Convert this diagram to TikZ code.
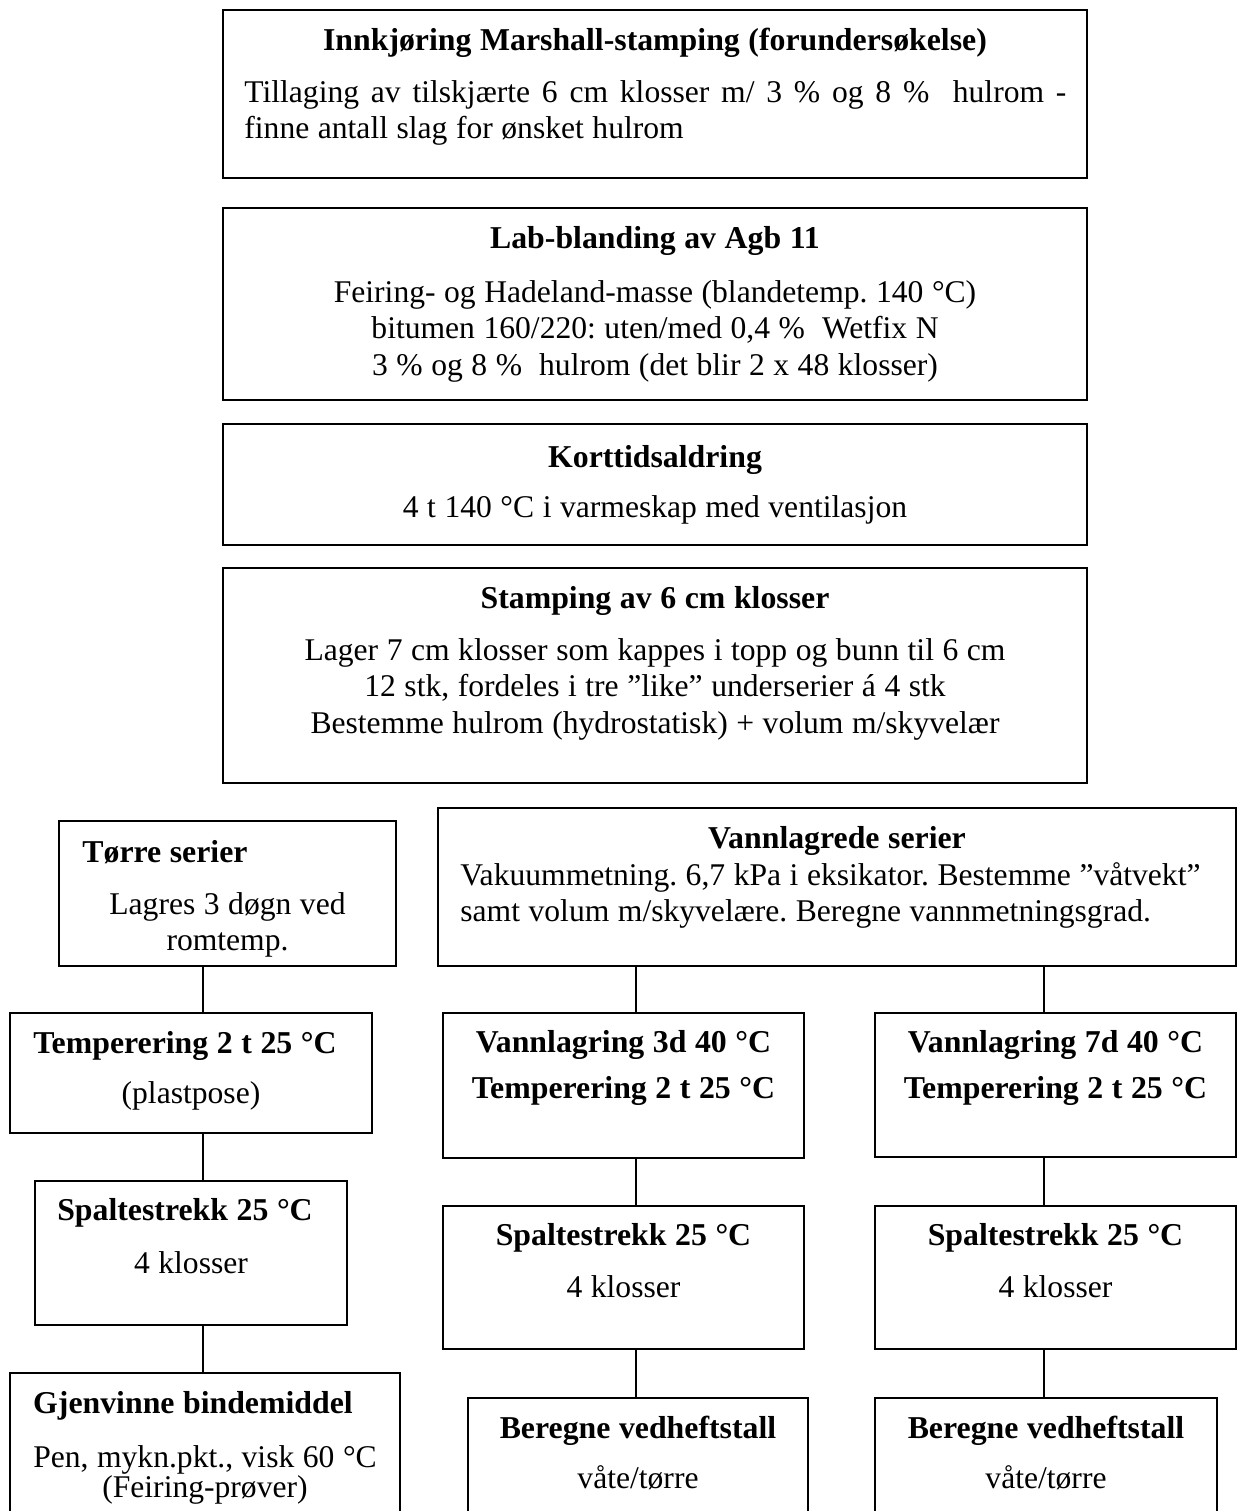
\documentclass[tikz,border=0pt]{standalone}
\usepackage{fontspec}
\setmainfont{Liberation Serif}
\frenchspacing
\usetikzlibrary{calc,positioning}
\newcommand\pxu{0.5pt}
\newcommand\tightsp{\spaceskip=0.27em\relax}
\tikzset{
    panel/.style 2 args={draw,line width=1pt,rectangle,inner sep=0,minimum width=#1*\pxu,minimum height=#2*\pxu},
    bodytxt/.style={inner sep=0,anchor=base,align=center,text width=#1*\pxu,font=\fontsize{15.8}{18.35}\selectfont,execute at begin node=\tightsp},
    headtxt/.style={bodytxt=#1,font=\fontsize{15.9}{18.35}\selectfont\bfseries},
    link/.style={line width=1pt}
}

\begin{document}
\begin{tikzpicture}[x=0.5pt,y=-0.5pt]
    \useasboundingbox (0,0) rectangle (1242,1511);
    \clip (0,0) rectangle (1242,1511);

    % forberedelse
    \node[panel={864}{168}] (forund) at (655,94) {};
    \node[headtxt=840] (forundT) at (655,50) {Innkjøring Marshall-stamping (forundersøkelse)};
    \node[bodytxt=822,align=justify,anchor=base west,execute at begin node={\spaceskip=0.27em plus 0.5em\relax}] (forundB) at (244,102)
        {Tillaging av tilskjærte 6 cm klosser m/ 3 \% og 8 \%\ \ hulrom - finne antall slag for ønsket hulrom};

    \node[panel={864}{192}] (lab) at (655,304) {};
    \node[headtxt=840] (labT) at (655,248) {Lab-blanding av Agb 11};
    \node[bodytxt=840] (labB) at (655,302)
        {Feiring- og Hadeland-masse (blandetemp. 140 °C)\\bitumen 160/220: uten/med 0,4 \%\ \ Wetfix N\\3 \% og 8 \%\ \ hulrom (det blir 2 x 48 klosser)};

    \node[panel={864}{121}] (kort) at (655,484.5) {};
    \node[headtxt=840] (kortT) at (655,467) {Korttidsaldring};
    \node[bodytxt=840] (kortB) at (655,517) {4 t 140 °C i varmeskap med ventilasjon};

    \node[panel={864}{215}] (stamp) at (655,675.5) {};
    \node[headtxt=840] (stampT) at (655,608) {Stamping av 6 cm klosser};
    \node[bodytxt=840] (stampB) at (655,660)
        {Lager 7 cm klosser som kappes i topp og bunn til 6 cm\\12 stk, fordeles i tre ”like” underserier á 4 stk\\Bestemme hulrom (hydrostatisk) + volum m/skyvelær};

    % tørre serier
    \node[panel={337}{145}] (torre) at (227.5,893.5) {};
    \node[headtxt=300,align=left,anchor=base west] (torreT) at (82,862) {Tørre serier};
    \node[bodytxt=320] (torreB) at (227.5,914) {Lagres 3 døgn ved\\romtemp.};

    \node[panel={362}{120}] (templ) at (191,1073) {};
    \node[headtxt=350] (templT) at (185,1053) {Temperering 2 t 25 °C};
    \node[bodytxt=350] (templB) at (191,1103) {(plastpose)};

    \node[panel={312}{144}] (spl) at (191,1253) {};
    \node[headtxt=300] (splT) at (185,1220) {Spaltestrekk 25 °C};
    \node[bodytxt=300] (splB) at (191,1273) {4 klosser};

    \node[panel={390}{167}] (gjen) at (205,1456.5) {};
    \node[headtxt=380] (gjenT) at (193,1413) {Gjenvinne bindemiddel};
    \node[bodytxt=380,font=\fontsize{15.8}{15}\selectfont] (gjenB) at (205,1467) {Pen, mykn.pkt., visk 60 °C\\(Feiring-prøver)};

    % vannlagrede serier
    \node[panel={798}{158}] (vann) at (837,887) {};
    \node[headtxt=780] (vannT) at (837,848) {Vannlagrede serier};
    \node[bodytxt=790,align=left,anchor=base west] (vannB) at (460,885)
        {Vakuummetning. 6,7 kPa i eksikator. Bestemme ”våtvekt”\\samt volum m/skyvelære. Beregne vannmetningsgrad.};

    \node[panel={361}{145}] (v3) at (623.5,1085.5) {};
    \node[headtxt=350,font=\fontsize{15.9}{23}\selectfont\bfseries] (v3T) at (623.5,1052) {Vannlagring 3d 40 °C\\Temperering 2 t 25 °C};
    \node[panel={361}{143}] (sp3) at (623.5,1277.5) {};
    \node[headtxt=350] (sp3T) at (623.5,1245) {Spaltestrekk 25 °C};
    \node[bodytxt=350] (sp3B) at (623.5,1297) {4 klosser};
    \node[panel={340}{142}] (ber3) at (638,1469) {};
    \node[headtxt=330] (ber3T) at (638,1438) {Beregne vedheftstall};
    \node[bodytxt=330] (ber3B) at (638,1488) {våte/tørre};

    \node[panel={361}{144}] (v7) at (1055.5,1085) {};
    \node[headtxt=350,font=\fontsize{15.9}{23}\selectfont\bfseries] (v7T) at (1055.5,1052) {Vannlagring 7d 40 °C\\Temperering 2 t 25 °C};
    \node[panel={361}{143}] (sp7) at (1055.5,1277.5) {};
    \node[headtxt=350] (sp7T) at (1055.5,1245) {Spaltestrekk 25 °C};
    \node[bodytxt=350] (sp7B) at (1055.5,1297) {4 klosser};
    \node[panel={342}{142}] (ber7) at (1046,1469) {};
    \node[headtxt=330] (ber7T) at (1046,1438) {Beregne vedheftstall};
    \node[bodytxt=330] (ber7B) at (1046,1488) {våte/tørre};

    % forbindelser
    \coordinate (colL) at (203,0);
    \coordinate (colM) at (636,0);
    \coordinate (colR) at (1044,0);
    \draw[link] (torre.south -| colL) -- (templ.north -| colL);
    \draw[link] (templ.south -| colL) -- (spl.north -| colL);
    \draw[link] (spl.south -| colL) -- (gjen.north -| colL);
    \draw[link] (vann.south -| colM) -- (v3.north -| colM);
    \draw[link] (v3.south -| colM) -- (sp3.north -| colM);
    \draw[link] (sp3.south -| colM) -- (ber3.north -| colM);
    \draw[link] (vann.south -| colR) -- (v7.north -| colR);
    \draw[link] (v7.south -| colR) -- (sp7.north -| colR);
    \draw[link] (sp7.south -| colR) -- (ber7.north -| colR);
\end{tikzpicture}
\end{document}
